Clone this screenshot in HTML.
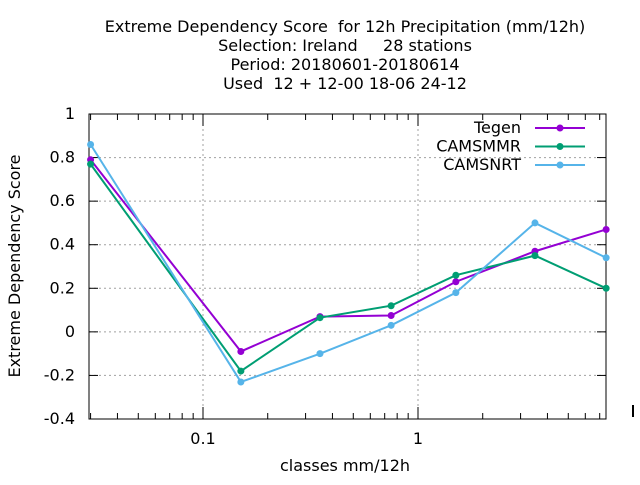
<!DOCTYPE html>
<html><head><meta charset="utf-8"><style>
body{margin:0;background:#fff}
svg text{font-family:"DejaVu Sans","Liberation Sans",sans-serif;font-size:16px;fill:#000}
</style></head><body>
<svg id="c" width="640" height="480" xmlns="http://www.w3.org/2000/svg">
<g>
<text x="345" y="32" text-anchor="middle" xml:space="preserve">Extreme Dependency Score  for 12h Precipitation (mm/12h)</text>
<text x="345" y="51" text-anchor="middle" xml:space="preserve">Selection: Ireland     28 stations</text>
<text x="345" y="70" text-anchor="middle">Period: 20180601-20180614</text>
<text x="345" y="89" text-anchor="middle" xml:space="preserve">Used  12 + 12-00 18-06 24-12</text>
</g>
<text transform="translate(20,266) rotate(-90)" text-anchor="middle">Extreme Dependency Score</text>
<text x="345" y="471" text-anchor="middle">classes mm/12h</text>
<g id="grid"></g><g id="axes"></g><g id="series"></g><g id="legend"></g>
</svg>
<script>
const xValues=[0.03,0.15,0.35,0.75,1.5,3.5,7.5];
const seriesNames=["Tegen","CAMSMMR","CAMSNRT"];
const tegen=[0.79,-0.09,0.07,0.075,0.23,0.37,0.47];
const camsmmr=[0.77,-0.18,0.065,0.12,0.26,0.35,0.2];
const camsnrt=[0.86,-0.23,-0.1,0.03,0.18,0.5,0.34];
const yTicks=[-0.4,-0.2,0,0.2,0.4,0.6,0.8,1];
const yTickLabels=["-0.4","-0.2","0","0.2","0.4","0.6","0.8","1"];
const xTicks=[0.1,1];
const xTickLabels=["0.1","1"];
const colors=["#9400d3","#009e73","#56b4e9"];
const L=89,R=606,T=114,B=419;
const NS="http://www.w3.org/2000/svg";
function X(v){return 418+Math.log10(v)*215;}
function Y(v){return B-(v+0.4)/1.4*(B-T);}
function mk(p,t,a){const e=document.createElementNS(NS,t);for(const k in a)e.setAttribute(k,a[k]);document.getElementById(p).appendChild(e);return e;}
yTicks.forEach((v,i)=>{
 const y=Y(v);
 if(i>0&&i<yTicks.length-1){const g=mk('grid','line',{x1:L,x2:R,y1:y,y2:y,stroke:'#a0a0a0','stroke-dasharray':'2,3'});
 
 }
 const t=mk('axes','line',{x1:L,x2:L+9,y1:y,y2:y,stroke:'#000'});
 
 
 mk('axes','line',{x1:R-9,x2:R,y1:y,y2:y,stroke:'#000'});
 const l=mk('axes','text',{x:L-14,y:y+5,'text-anchor':'end'});l.textContent=yTickLabels[i];
 
 
});
xTicks.forEach((v,i)=>{
 const x=X(v);
 const g=mk('grid','line',{x1:x,x2:x,y1:T,y2:B,stroke:'#a0a0a0','stroke-dasharray':'2,3'});
 
 
 const l=mk('axes','text',{x:x,y:B+25,'text-anchor':'middle'});l.textContent=xTickLabels[i];
 
 
});
[0.01,0.1,1,10].forEach(d=>{for(let m=1;m<10;m++){const v=d*m;const x=X(v);
 const len=m==1?12:6;
 if(m==1&&d==10){mk('axes','line',{x1:x,x2:x,y1:B-14,y2:B-2,stroke:'#000','stroke-width':2});continue;}
 if(x<L||x>R)continue;
 mk('axes','line',{x1:x,x2:x,y1:B,y2:B-len,stroke:'#000'});
 mk('axes','line',{x1:x,x2:x,y1:T,y2:T+len,stroke:'#000'});}});
const f=mk('axes','rect',{x:L,y:T,width:R-L,height:B-T,fill:'none',stroke:'#000'});


[tegen,camsmmr,camsnrt].forEach((s,si)=>{
 const pts=s.map((v,i)=>X(xValues[i])+','+Y(v)).join(' ');
 const pl=mk('series','polyline',{points:pts,fill:'none',stroke:colors[si],'stroke-width':2});
 
 
 s.forEach((v,i)=>{const c=mk('series','circle',{cx:X(xValues[i]),cy:Y(v),r:3.5,fill:colors[si]});
 
 });
 const ly=128+si*18.5;
 const t=mk('legend','text',{x:521,y:ly+5,'text-anchor':'end'});t.textContent=seriesNames[si];
 
 
 mk('legend','line',{x1:535,x2:585,y1:ly,y2:ly,stroke:colors[si],'stroke-width':2});
 mk('legend','circle',{cx:560,cy:ly,r:3.5,fill:colors[si]});
});
</script>
</body></html>
